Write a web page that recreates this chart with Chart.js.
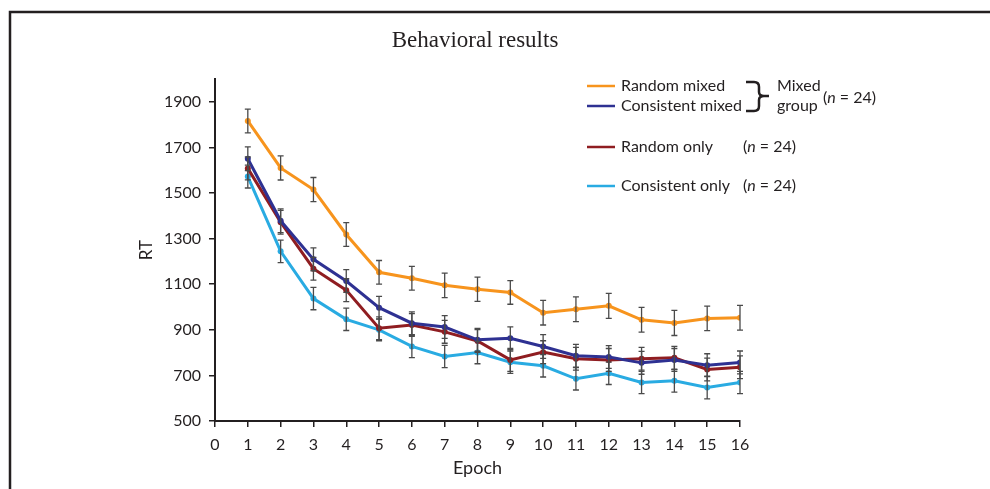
<!DOCTYPE html>
<html>
<head>
<meta charset="utf-8">
<script src="https://cdn.jsdelivr.net/npm/chart.js@4/dist/chart.umd.min.js"></script>
<style>
  html, body { margin: 0; padding: 0; background: #fff; }
  #wrap { width: 990px; height: 489px; }
</style>
</head>
<body>
<div id="wrap"><canvas id="chart" width="990" height="489"></canvas></div>
<script>
// data
const epochs = [1, 2, 3, 4, 5, 6, 7, 8, 9, 10, 11, 12, 13, 14, 15, 16];
const randomMixed     = [1816, 1610, 1515, 1318, 1152, 1126, 1095, 1078, 1064, 975, 990, 1005, 944, 930, 950, 953];
const consistentMixed = [1650, 1378, 1209, 1114, 997, 929, 912, 856, 863, 827, 786, 781, 755, 768, 745, 757];
const randomOnly      = [1608, 1372, 1168, 1074, 907, 921, 891, 851, 768, 802, 773, 768, 773, 777, 726, 736];
const consistentOnly  = [1572, 1244, 1037, 946, 900, 827, 783, 800, 758, 742, 685, 709, 669, 676, 647, 669];

// standard error (half bar length)
const randomMixedErr     = [52, 53, 53, 52, 52, 52, 54, 53, 52, 54, 54, 55, 54, 55, 54, 54];
const consistentMixedErr = [52, 52, 50, 50, 50, 50, 50, 50, 50, 52, 50, 50, 50, 50, 50, 50];
const randomOnlyErr      = [50, 52, 50, 50, 50, 50, 50, 50, 50, 50, 50, 50, 50, 50, 50, 50];
const consistentOnlyErr  = [50, 49, 49, 49, 48, 49, 49, 49, 49, 49, 49, 49, 49, 49, 50, 49];

const yTicks = [500, 700, 900, 1100, 1300, 1500, 1700, 1900];
const xTicks = [0, 1, 2, 3, 4, 5, 6, 7, 8, 9, 10, 11, 12, 13, 14, 15, 16];

const ink = '#231f20';
Chart.defaults.font.family = 'Lato, "Open Sans", sans-serif';
Chart.defaults.color = ink;

function toPoints(arr) {
    return arr.map((v, i) => ({ x: epochs[i], y: v }));
}

function series(label, values, errors, color) {
    return {
        label: label,
        data: toPoints(values),
        errors: errors,
        borderColor: color,
        backgroundColor: color,
        borderWidth: 3,
        pointRadius: 3,
        pointHoverRadius: 3,
        pointBorderWidth: 0,
        tension: 0
    };
}

// vertical error bars with caps
const errorBars = {
    id: 'errorBars',
    afterDatasetsDraw(chart) {
        const ctx = chart.ctx;
        const xs = chart.scales.x, ys = chart.scales.y;
        ctx.save();
        ctx.strokeStyle = '#4a4a4a';
        ctx.lineWidth = 1.3;
        chart.data.datasets.forEach(ds => {
            ds.data.forEach((p, i) => {
                const e = ds.errors[i];
                const px = xs.getPixelForValue(p.x);
                const top = ys.getPixelForValue(p.y + e);
                const bot = ys.getPixelForValue(p.y - e);
                ctx.beginPath();
                ctx.moveTo(px, top); ctx.lineTo(px, bot);
                ctx.moveTo(px - 3, top); ctx.lineTo(px + 3, top);
                ctx.moveTo(px - 3, bot); ctx.lineTo(px + 3, bot);
                ctx.stroke();
            });
        });
        ctx.restore();
    }
};

// frame, title and the custom legend with the brace
const decorations = {
    id: 'decorations',
    afterDraw(chart) {
        const ctx = chart.ctx;
        ctx.save();
        // frame
        ctx.strokeStyle = ink;
        ctx.lineWidth = 2.5;
        ctx.beginPath();
        ctx.moveTo(10, 489);
        ctx.lineTo(10, 12);
        ctx.lineTo(990, 12);
        ctx.stroke();

        // title
        ctx.fillStyle = ink;
        ctx.font = '23px "Liberation Serif", "Times New Roman", serif';
        ctx.textAlign = 'center';
        ctx.textBaseline = 'alphabetic';
        ctx.fillText('Behavioral results', 475, 47);

        // legend rows
        const rows = [
            { text: 'Random mixed', color: chart.data.datasets[0].borderColor, y: 86 },
            { text: 'Consistent mixed', color: chart.data.datasets[1].borderColor, y: 106 },
            { text: 'Random only', color: chart.data.datasets[2].borderColor, y: 147 },
            { text: 'Consistent only', color: chart.data.datasets[3].borderColor, y: 186 }
        ];
        ctx.font = '16px Lato, "Open Sans", sans-serif';
        ctx.textAlign = 'left';
        ctx.textBaseline = 'middle';
        rows.forEach(r => {
            ctx.strokeStyle = r.color;
            ctx.lineWidth = 2.5;
            ctx.beginPath();
            ctx.moveTo(587, r.y);
            ctx.lineTo(615, r.y);
            ctx.stroke();
            ctx.fillStyle = ink;
            ctx.fillText(r.text, 621, r.y);
        });

        // brace
        ctx.strokeStyle = ink;
        ctx.lineWidth = 2.5;
        ctx.beginPath();
        ctx.moveTo(746, 82);
        ctx.lineTo(754, 82);
        ctx.quadraticCurveTo(759, 82, 759, 87);
        ctx.lineTo(759, 92);
        ctx.quadraticCurveTo(759, 96, 764, 96);
        ctx.lineTo(769, 96);
        ctx.moveTo(764, 96);
        ctx.quadraticCurveTo(759, 96, 759, 100);
        ctx.lineTo(759, 106);
        ctx.quadraticCurveTo(759, 111, 754, 111);
        ctx.lineTo(746, 111);
        ctx.stroke();

        ctx.fillStyle = ink;
        ctx.fillText('Mixed', 777, 86);
        ctx.fillText('group', 777, 106);

        // (n = 24) labels
        function nLabel(x, y) {
            ctx.font = '16px Lato, "Open Sans", sans-serif';
            ctx.fillText('(', x, y);
            let w = ctx.measureText('(').width;
            ctx.font = 'italic 16px Lato, "Open Sans", sans-serif';
            ctx.fillText('n', x + w, y);
            w += ctx.measureText('n').width;
            ctx.font = '16px Lato, "Open Sans", sans-serif';
            ctx.fillText(' = 24)', x + w, y);
        }
        nLabel(823, 98);
        nLabel(743, 147);
        nLabel(743, 186);
        ctx.restore();
    }
};

new Chart(document.getElementById('chart'), {
    type: 'line',
    data: {
        datasets: [
            series('Random mixed', randomMixed, randomMixedErr, '#f7941d'),
            series('Consistent mixed', consistentMixed, consistentMixedErr, '#2e3192'),
            series('Random only', randomOnly, randomOnlyErr, '#8f1d21'),
            series('Consistent only', consistentOnly, consistentOnlyErr, '#29abe2')
        ]
    },
    options: {
        responsive: false,
        animation: false,
        layout: { padding: { top: 79, right: 250, bottom: 0, left: 136 } },
        plugins: {
            legend: { display: false },
            title: { display: false },
            tooltip: { enabled: false }
        },
        scales: {
            x: {
                type: 'linear',
                min: 0,
                max: 16,
                afterBuildTicks: scale => { scale.ticks = xTicks.map(v => ({ value: v })); },
                afterFit: scale => { scale.height = 68; },
                grid: { drawOnChartArea: false, drawTicks: true, tickLength: 6, color: ink, lineWidth: 1.5 },
                border: { color: ink, width: 2 },
                ticks: { font: { size: 16 }, padding: 8, maxRotation: 0, color: ink, callback: v => String(v) },
                title: { display: true, text: 'Epoch', font: { size: 18 }, padding: { top: 0, bottom: 10 }, color: ink }
            },
            y: {
                min: 500,
                max: 2000,
                afterBuildTicks: scale => { scale.ticks = yTicks.map(v => ({ value: v })); },
                afterFit: scale => { scale.width = 79; },
                grid: { drawOnChartArea: false, drawTicks: true, tickLength: 6, color: ink, lineWidth: 1.5 },
                border: { color: ink, width: 2 },
                ticks: { font: { size: 16 }, padding: 8, color: ink, callback: v => String(v) },
                title: { display: true, text: 'RT', font: { size: 17 }, padding: { top: 0, bottom: 0 }, color: ink }
            }
        }
    },
    plugins: [errorBars, decorations]
});
</script>
</body>
</html>
